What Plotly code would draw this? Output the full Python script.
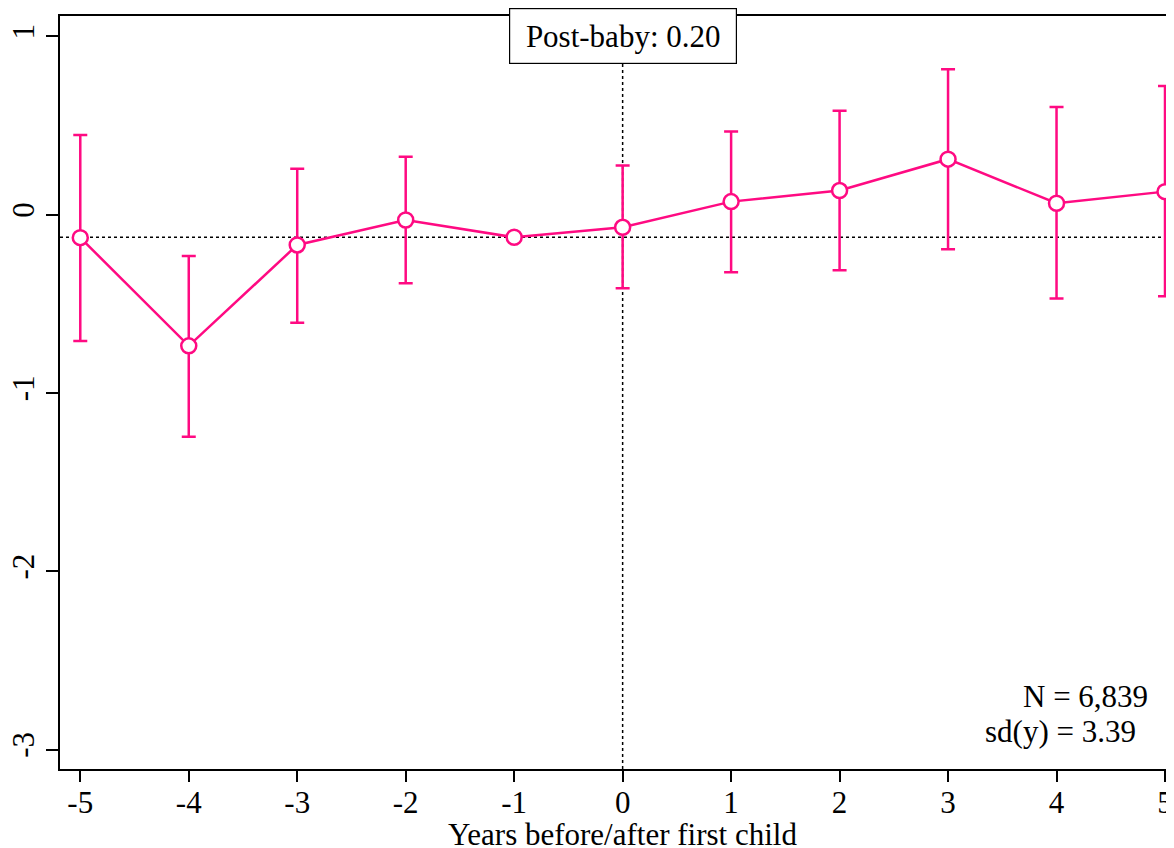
import plotly.graph_objects as go

# Data
years = [-5, -4, -3, -2, -1, 0, 1, 2, 3, 4, 5]
estimate = [-0.129, -0.736, -0.170, -0.030, -0.127, -0.071, 0.073, 0.135, 0.311, 0.064, 0.129]
ci_upper = [0.447, -0.232, 0.258, 0.324, None, 0.275, 0.466, 0.583, 0.815, 0.604, 0.722]
ci_lower = [-0.708, -1.245, -0.607, -0.385, None, -0.413, -0.323, -0.312, -0.194, -0.471, -0.458]
x_ticks = [-5, -4, -3, -2, -1, 0, 1, 2, 3, 4, 5]
y_ticks = [-3, -2, -1, 0, 1]
reference_year = -1
post_baby_label = "Post-baby: 0.20"
n_label = "N = 6,839"
sd_label = "sd(y) = 3.39"
x_title = "Years before/after first child"

PINK = "#FF0A82"
FONT = "Liberation Serif"
FS = 31

err_plus = [None if u is None else u - e for u, e in zip(ci_upper, estimate)]
err_minus = [None if l is None else e - l for l, e in zip(ci_lower, estimate)]
ref_value = estimate[years.index(reference_year)]

fig = go.Figure()
fig.add_trace(go.Scatter(
    x=years, y=estimate, mode="lines+markers",
    line=dict(color=PINK, width=2.5),
    marker=dict(symbol="circle", size=15, color="white", line=dict(color=PINK, width=2.5)),
    error_y=dict(type="data", array=err_plus, arrayminus=err_minus, symmetric=False,
                 color=PINK, thickness=2.5, width=7),
    showlegend=False,
    cliponaxis=False,
))

fig.add_shape(type="line", xref="paper", yref="y", x0=0, x1=1, y0=ref_value, y1=ref_value,
              line=dict(color="black", width=1.5, dash="dot"), layer="below")
fig.add_shape(type="line", xref="x", yref="paper", x0=0, x1=0, y0=0, y1=1,
              line=dict(color="black", width=1.5, dash="dot"), layer="below")

fig.add_annotation(x=0, y=1.0, xref="x", yref="y", text=post_baby_label, showarrow=False,
                   font=dict(family=FONT, size=FS, color="black"),
                   width=210, height=38,
                   bgcolor="white", bordercolor="black", borderwidth=1.2, borderpad=8)
fig.add_annotation(x=0.9785, y=-2.705, xref="paper", yref="y", text=n_label, showarrow=False,
                   xanchor="right", font=dict(family=FONT, size=FS, color="black"))
fig.add_annotation(x=0.9677, y=-2.896, xref="paper", yref="y", text=sd_label, showarrow=False,
                   xanchor="right", font=dict(family=FONT, size=FS, color="black"))
# x-axis title placed explicitly below the tick labels
fig.add_annotation(x=0, y=-0.087, xref="x", yref="paper", text=x_title, showarrow=False,
                   yanchor="middle", font=dict(family=FONT, size=FS, color="black"))

# page has an 8px body margin: figure is shrunk so the plot lands where the reference has it
fig.update_layout(
    width=1166, height=840,
    margin=dict(l=52, r=0, t=8, b=79, autoexpand=False),
    paper_bgcolor="white", plot_bgcolor="white",
    font=dict(family=FONT, size=FS, color="black"),
    xaxis=dict(range=[-5.187, 5.083], tickvals=x_ticks, ticktext=[str(v) for v in x_ticks],
               showgrid=False, zeroline=False, showline=True, linecolor="black", linewidth=2,
               mirror=True, ticks="outside", ticklen=11, tickwidth=2, tickcolor="black",
               ticklabelstandoff=-6, automargin=False),
    yaxis=dict(range=[-3.109, 1.114], tickvals=y_ticks, ticktext=[str(v) for v in y_ticks],
               showgrid=False, zeroline=False, showline=True, linecolor="black", linewidth=2,
               ticks="outside", ticklen=12, tickwidth=2, tickcolor="black", tickangle=-90,
               automargin=False),
)

fig.write_html("out.html")
